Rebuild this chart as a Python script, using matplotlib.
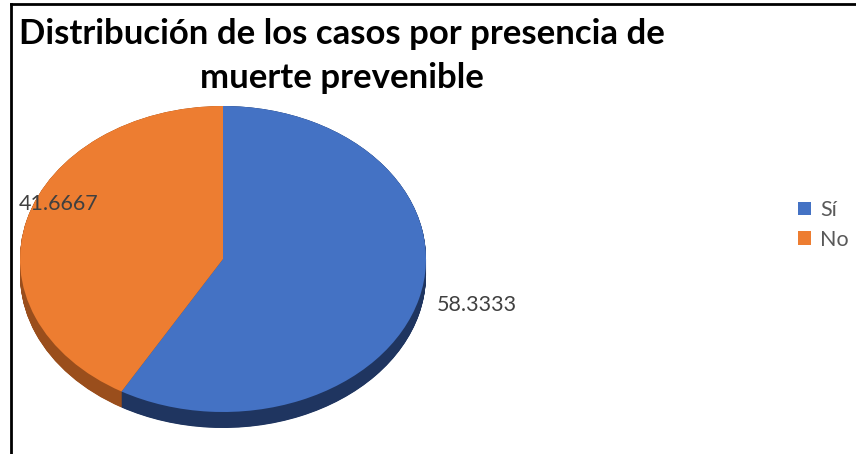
import numpy as np
import matplotlib.pyplot as plt
from matplotlib.lines import Line2D
from matplotlib.patches import Patch

plt.rcParams['font.family'] = ['Lato', 'DejaVu Sans']

# datos
categorias = ['Sí', 'No']
porcentajes = [58.3333, 41.6667]
colores = ['#4472C4', '#ED7D31']
colores_lado = ['#1F3560', '#9A4E1C']

W, H = 856, 454
fig = plt.figure(figsize=(W / 100, H / 100), dpi=100)

# marco del grafico (borde superior e izquierdo)
fig.add_artist(Line2D([11 / W, 11 / W], [0, 1 - 4 / H], color='black', lw=2))
fig.add_artist(Line2D([11 / W, 1], [1 - 4 / H, 1 - 4 / H], color='black', lw=2))

fig.text(342 / W, 1 - 34 / H, 'Distribución de los casos por presencia de',
         ha='center', va='center', fontsize=25, fontweight='bold')
fig.text(342 / W, 1 - 78 / H, 'muerte prevenible',
         ha='center', va='center', fontsize=25, fontweight='bold')

# pastel 3D: elipse superior de 20..426 px x 106..412 px, grosor 16 px
x0, x1, y_top, y_bot, grosor = 20, 426, 106, 412, 16
ax = fig.add_axes([x0 / W, 1 - (y_bot + grosor) / H,
                   (x1 - x0) / W, (y_bot + grosor - y_top) / H])
prof = 2 * grosor / (y_bot - y_top)

# lado del pastel con capas desplazadas
for dy in np.linspace(prof, 0, 40):
    ax.pie(porcentajes, colors=colores_lado, startangle=90, counterclock=False,
           radius=1, center=(0, -dy), wedgeprops=dict(linewidth=0))
ax.pie(porcentajes, colors=colores, startangle=90, counterclock=False,
       radius=1, center=(0, 0), wedgeprops=dict(linewidth=0))
ax.set_aspect('auto')
ax.set_xlim(-1, 1)
ax.set_ylim(-1 - prof, 1)
ax.axis('off')

# etiquetas de datos
fig.text(437 / W, 1 - 305 / H, f'{porcentajes[0]:g}', ha='left', va='center',
         fontsize=15.5, color='#404040')
fig.text(19 / W, 1 - 204 / H, f'{porcentajes[1]:g}', ha='left', va='center',
         fontsize=15.5, color='#404040')

handles = [Patch(facecolor=c, edgecolor='none') for c in colores]
fig.legend(handles, categorias, loc='center left', bbox_to_anchor=(779 / W, 1 - 225 / H),
           frameon=False, fontsize=15.5, labelcolor='#595959', handlelength=0.6,
           handleheight=0.6, handletextpad=0.4, labelspacing=0.45)

fig.savefig('out.png', dpi=100)
